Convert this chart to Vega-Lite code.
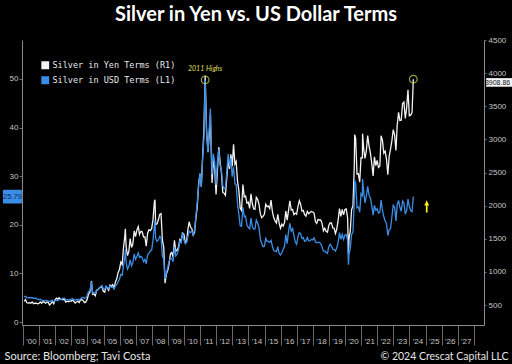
{
"$schema": "https://vega.github.io/schema/vega-lite/v6.json",
"width": 462, "height": 285,
"autosize": {"type": "none"},
"padding": {"left": 22, "top": 40, "right": 28, "bottom": 39},
"background": "black",
"title": {"text": "Silver in Yen vs. US Dollar Terms", "color": "white", "font": "Lato", "fontSize": 20, "fontWeight": "bold", "anchor": "middle", "offset": 11, "frame": "group", "dx": 3},
"config": {"view": {"stroke": null}, "axis": {"grid": false, "labelFont": "Liberation Sans", "labelFontSize": 8, "labelColor": "#c4c4c4", "domainColor": "#8a8a8a", "tickColor": "#6a6a6a", "titleFont": "Lato", "titleFontSize": 10.5, "titleFontWeight": "normal", "titleColor": "#e6e6e6"}},
"datasets": {"silver": [
{"d":"2000-01-28","usd":5.2,"jpy":556},{"d":"2000-02-28","usd":5.3,"jpy":583},{"d":"2000-03-28","usd":5.05,"jpy":535},{"d":"2000-04-28","usd":5.0,"jpy":530},{"d":"2000-05-28","usd":5.0,"jpy":538},{"d":"2000-06-28","usd":5.0,"jpy":530},{"d":"2000-07-28","usd":5.0,"jpy":548},{"d":"2000-08-28","usd":4.9,"jpy":522},{"d":"2000-09-28","usd":4.9,"jpy":529},{"d":"2000-10-28","usd":4.85,"jpy":528},{"d":"2000-11-28","usd":4.7,"jpy":519},{"d":"2000-12-28","usd":4.6,"jpy":526},
{"d":"2001-01-28","usd":4.7,"jpy":547},{"d":"2001-02-28","usd":4.5,"jpy":528},{"d":"2001-03-28","usd":4.4,"jpy":554},{"d":"2001-04-28","usd":4.4,"jpy":545},{"d":"2001-05-28","usd":4.45,"jpy":529},{"d":"2001-06-28","usd":4.4,"jpy":548},{"d":"2001-07-28","usd":4.3,"jpy":538},{"d":"2001-08-28","usd":4.2,"jpy":499},{"d":"2001-09-28","usd":4.4,"jpy":525},{"d":"2001-10-28","usd":4.5,"jpy":551},{"d":"2001-11-28","usd":4.2,"jpy":520},{"d":"2001-12-28","usd":4.4,"jpy":579},
{"d":"2002-01-28","usd":4.5,"jpy":606},{"d":"2002-02-28","usd":4.4,"jpy":587},{"d":"2002-03-28","usd":4.6,"jpy":611},{"d":"2002-04-28","usd":4.6,"jpy":591},{"d":"2002-05-28","usd":4.7,"jpy":583},{"d":"2002-06-28","usd":4.9,"jpy":585},{"d":"2002-07-28","usd":4.9,"jpy":588},{"d":"2002-08-28","usd":4.6,"jpy":546},{"d":"2002-09-28","usd":4.6,"jpy":559},{"d":"2002-10-28","usd":4.5,"jpy":551},{"d":"2002-11-28","usd":4.6,"jpy":563},{"d":"2002-12-28","usd":4.7,"jpy":558},
{"d":"2003-01-28","usd":4.8,"jpy":576},{"d":"2003-02-28","usd":4.7,"jpy":555},{"d":"2003-03-28","usd":4.5,"jpy":531},{"d":"2003-04-28","usd":4.6,"jpy":548},{"d":"2003-05-28","usd":4.7,"jpy":562},{"d":"2003-06-28","usd":4.5,"jpy":539},{"d":"2003-07-28","usd":4.8,"jpy":578},{"d":"2003-08-28","usd":5.0,"jpy":584},{"d":"2003-09-28","usd":5.1,"jpy":568},{"d":"2003-10-28","usd":4.9,"jpy":537},{"d":"2003-11-28","usd":5.0,"jpy":548},{"d":"2003-12-28","usd":5.5,"jpy":590},
{"d":"2004-01-28","usd":6.3,"jpy":667},{"d":"2004-02-28","usd":6.4,"jpy":698},{"d":"2004-03-28","usd":7.9,"jpy":823},{"d":"2004-04-02","usd":8.3,"jpy":863},{"d":"2004-04-28","usd":6.0,"jpy":662},{"d":"2004-05-28","usd":6.1,"jpy":668},{"d":"2004-06-28","usd":5.9,"jpy":642},{"d":"2004-07-28","usd":6.5,"jpy":724},{"d":"2004-08-28","usd":6.7,"jpy":734},{"d":"2004-09-28","usd":6.9,"jpy":759},{"d":"2004-10-28","usd":7.3,"jpy":772},{"d":"2004-11-28","usd":7.5,"jpy":773},{"d":"2004-12-28","usd":6.8,"jpy":709},
{"d":"2005-01-28","usd":6.7,"jpy":694},{"d":"2005-02-28","usd":7.4,"jpy":774},{"d":"2005-03-28","usd":7.1,"jpy":761},{"d":"2005-04-28","usd":6.9,"jpy":724},{"d":"2005-05-28","usd":7.4,"jpy":803},{"d":"2005-06-28","usd":7.1,"jpy":787},{"d":"2005-07-28","usd":7.2,"jpy":809},{"d":"2005-08-28","usd":6.8,"jpy":757},{"d":"2005-09-28","usd":7.5,"jpy":851},{"d":"2005-10-28","usd":7.7,"jpy":896},{"d":"2005-11-28","usd":8.3,"jpy":994},{"d":"2005-12-28","usd":8.8,"jpy":1038},
{"d":"2006-01-28","usd":9.8,"jpy":1149},{"d":"2006-02-28","usd":9.6,"jpy":1111},{"d":"2006-03-28","usd":11.5,"jpy":1355},{"d":"2006-04-28","usd":13.5,"jpy":1536},{"d":"2006-05-11","usd":14.9,"jpy":1650},{"d":"2006-05-28","usd":12.3,"jpy":1385},{"d":"2006-06-28","usd":10.9,"jpy":1248},{"d":"2006-07-28","usd":11.4,"jpy":1306},{"d":"2006-08-28","usd":12.8,"jpy":1503},{"d":"2006-09-28","usd":11.6,"jpy":1370},{"d":"2006-10-28","usd":12.2,"jpy":1426},{"d":"2006-11-28","usd":14.0,"jpy":1621},{"d":"2006-12-28","usd":12.9,"jpy":1535},
{"d":"2007-01-28","usd":13.5,"jpy":1635},{"d":"2007-02-28","usd":14.2,"jpy":1684},{"d":"2007-03-28","usd":13.3,"jpy":1567},{"d":"2007-04-28","usd":13.5,"jpy":1613},{"d":"2007-05-28","usd":13.2,"jpy":1606},{"d":"2007-06-28","usd":12.4,"jpy":1528},{"d":"2007-07-28","usd":12.9,"jpy":1530},{"d":"2007-08-28","usd":12.0,"jpy":1390},{"d":"2007-09-28","usd":13.8,"jpy":1584},{"d":"2007-10-28","usd":14.2,"jpy":1637},{"d":"2007-11-28","usd":14.6,"jpy":1624},{"d":"2007-12-28","usd":14.8,"jpy":1653},
{"d":"2008-01-28","usd":16.8,"jpy":1788},{"d":"2008-02-28","usd":19.8,"jpy":2057},{"d":"2008-03-14","usd":20.9,"jpy":2090},{"d":"2008-03-28","usd":17.2,"jpy":1715},{"d":"2008-04-28","usd":16.6,"jpy":1726},{"d":"2008-05-28","usd":16.9,"jpy":1783},{"d":"2008-06-28","usd":17.6,"jpy":1869},{"d":"2008-07-28","usd":17.4,"jpy":1881},{"d":"2008-08-28","usd":13.6,"jpy":1480},{"d":"2008-09-28","usd":12.9,"jpy":1367},{"d":"2008-10-27","usd":8.9,"jpy":830},{"d":"2008-11-28","usd":10.2,"jpy":973},{"d":"2008-12-28","usd":11.3,"jpy":1024},
{"d":"2009-01-28","usd":12.5,"jpy":1124},{"d":"2009-02-28","usd":13.1,"jpy":1279},{"d":"2009-03-28","usd":13.1,"jpy":1296},{"d":"2009-04-28","usd":12.4,"jpy":1221},{"d":"2009-05-28","usd":15.5,"jpy":1477},{"d":"2009-06-28","usd":13.6,"jpy":1311},{"d":"2009-07-28","usd":14.0,"jpy":1326},{"d":"2009-08-28","usd":14.8,"jpy":1376},{"d":"2009-09-28","usd":16.6,"jpy":1491},{"d":"2009-10-28","usd":16.3,"jpy":1469},{"d":"2009-11-28","usd":18.4,"jpy":1588},{"d":"2009-12-28","usd":16.9,"jpy":1572},
{"d":"2010-01-28","usd":16.1,"jpy":1454},{"d":"2010-02-28","usd":16.4,"jpy":1458},{"d":"2010-03-28","usd":17.5,"jpy":1636},{"d":"2010-04-28","usd":18.7,"jpy":1758},{"d":"2010-05-28","usd":18.4,"jpy":1678},{"d":"2010-06-28","usd":18.7,"jpy":1653},{"d":"2010-07-28","usd":18.0,"jpy":1557},{"d":"2010-08-28","usd":19.0,"jpy":1600},{"d":"2010-09-28","usd":21.8,"jpy":1820},{"d":"2010-10-28","usd":24.7,"jpy":1986},{"d":"2010-11-28","usd":27.9,"jpy":2335},{"d":"2010-12-28","usd":30.6,"jpy":2482},
{"d":"2011-01-28","usd":27.9,"jpy":2288},{"d":"2011-02-28","usd":33.8,"jpy":2765},{"d":"2011-03-28","usd":37.9,"jpy":3149},{"d":"2011-04-25","usd":49.8,"jpy":3960},{"d":"2011-05-28","usd":38.3,"jpy":3121},{"d":"2011-06-28","usd":34.9,"jpy":2809},{"d":"2011-07-28","usd":40.1,"jpy":3088},{"d":"2011-08-22","usd":43.9,"jpy":3370},{"d":"2011-08-28","usd":41.5,"jpy":3183},{"d":"2011-09-28","usd":30.4,"jpy":2344},{"d":"2011-10-28","usd":34.6,"jpy":2706},{"d":"2011-11-28","usd":32.8,"jpy":2545},{"d":"2011-12-28","usd":28.2,"jpy":2169},
{"d":"2012-01-28","usd":33.1,"jpy":2526},{"d":"2012-02-28","usd":35.5,"jpy":2883},{"d":"2012-03-28","usd":32.2,"jpy":2666},{"d":"2012-04-28","usd":31.2,"jpy":2496},{"d":"2012-05-28","usd":28.1,"jpy":2200},{"d":"2012-06-28","usd":27.4,"jpy":2187},{"d":"2012-07-28","usd":27.6,"jpy":2156},{"d":"2012-08-28","usd":30.9,"jpy":2423},{"d":"2012-09-28","usd":34.6,"jpy":2695},{"d":"2012-10-28","usd":32.0,"jpy":2554},{"d":"2012-11-28","usd":33.7,"jpy":2777},{"d":"2012-12-28","usd":29.9,"jpy":2592},
{"d":"2013-01-28","usd":31.9,"jpy":2925},{"d":"2013-02-28","usd":28.4,"jpy":2627},{"d":"2013-03-28","usd":28.3,"jpy":2666},{"d":"2013-04-28","usd":24.3,"jpy":2369},{"d":"2013-05-28","usd":22.2,"jpy":2231},{"d":"2013-06-28","usd":19.8,"jpy":1964},{"d":"2013-07-28","usd":19.7,"jpy":1929},{"d":"2013-08-28","usd":23.6,"jpy":2318},{"d":"2013-09-28","usd":21.7,"jpy":2133},{"d":"2013-10-28","usd":21.8,"jpy":2145},{"d":"2013-11-28","usd":19.9,"jpy":2038},{"d":"2013-12-28","usd":19.5,"jpy":2053},
{"d":"2014-01-28","usd":19.2,"jpy":1958},{"d":"2014-02-28","usd":21.4,"jpy":2179},{"d":"2014-03-28","usd":19.7,"jpy":2033},{"d":"2014-04-28","usd":19.1,"jpy":1952},{"d":"2014-05-28","usd":19.1,"jpy":1944},{"d":"2014-06-28","usd":21.0,"jpy":2127},{"d":"2014-07-28","usd":20.4,"jpy":2097},{"d":"2014-08-28","usd":19.4,"jpy":2020},{"d":"2014-09-28","usd":17.1,"jpy":1876},{"d":"2014-10-28","usd":16.2,"jpy":1819},{"d":"2014-11-28","usd":15.5,"jpy":1838},{"d":"2014-12-28","usd":15.6,"jpy":1869},
{"d":"2015-01-28","usd":17.2,"jpy":2021},{"d":"2015-02-28","usd":16.6,"jpy":1985},{"d":"2015-03-28","usd":16.6,"jpy":1994},{"d":"2015-04-28","usd":16.4,"jpy":1958},{"d":"2015-05-28","usd":16.8,"jpy":2085},{"d":"2015-06-28","usd":15.6,"jpy":1909},{"d":"2015-07-28","usd":14.7,"jpy":1821},{"d":"2015-08-28","usd":14.6,"jpy":1770},{"d":"2015-09-28","usd":14.5,"jpy":1739},{"d":"2015-10-28","usd":15.5,"jpy":1869},{"d":"2015-11-28","usd":14.1,"jpy":1736},{"d":"2015-12-28","usd":13.8,"jpy":1659},
{"d":"2016-01-28","usd":14.2,"jpy":1720},{"d":"2016-02-28","usd":15.0,"jpy":1691},{"d":"2016-03-28","usd":15.5,"jpy":1745},{"d":"2016-04-28","usd":18.0,"jpy":1917},{"d":"2016-05-28","usd":16.1,"jpy":1782},{"d":"2016-06-28","usd":18.7,"jpy":1930},{"d":"2016-07-28","usd":20.3,"jpy":2073},{"d":"2016-08-28","usd":18.7,"jpy":1934},{"d":"2016-09-28","usd":19.2,"jpy":1945},{"d":"2016-10-28","usd":17.8,"jpy":1865},{"d":"2016-11-28","usd":16.5,"jpy":1889},{"d":"2016-12-28","usd":16.0,"jpy":1872},
{"d":"2017-01-28","usd":17.6,"jpy":1985},{"d":"2017-02-28","usd":18.4,"jpy":2074},{"d":"2017-03-28","usd":18.2,"jpy":2027},{"d":"2017-04-28","usd":17.2,"jpy":1918},{"d":"2017-05-28","usd":17.4,"jpy":1928},{"d":"2017-06-28","usd":16.6,"jpy":1866},{"d":"2017-07-28","usd":16.7,"jpy":1842},{"d":"2017-08-28","usd":17.4,"jpy":1914},{"d":"2017-09-28","usd":16.7,"jpy":1879},{"d":"2017-10-28","usd":16.7,"jpy":1897},{"d":"2017-11-28","usd":17.0,"jpy":1913},{"d":"2017-12-28","usd":16.9,"jpy":1905},
{"d":"2018-01-28","usd":17.3,"jpy":1889},{"d":"2018-02-28","usd":16.5,"jpy":1761},{"d":"2018-03-28","usd":16.3,"jpy":1733},{"d":"2018-04-28","usd":16.4,"jpy":1793},{"d":"2018-05-28","usd":16.4,"jpy":1784},{"d":"2018-06-28","usd":16.1,"jpy":1784},{"d":"2018-07-28","usd":15.5,"jpy":1734},{"d":"2018-08-28","usd":14.6,"jpy":1621},{"d":"2018-09-28","usd":14.6,"jpy":1660},{"d":"2018-10-28","usd":14.3,"jpy":1614},{"d":"2018-11-28","usd":14.1,"jpy":1600},{"d":"2018-12-28","usd":15.5,"jpy":1700},
{"d":"2019-01-28","usd":16.0,"jpy":1742},{"d":"2019-02-28","usd":15.6,"jpy":1738},{"d":"2019-03-28","usd":15.0,"jpy":1664},{"d":"2019-04-28","usd":14.9,"jpy":1660},{"d":"2019-05-28","usd":14.6,"jpy":1581},{"d":"2019-06-28","usd":15.3,"jpy":1651},{"d":"2019-07-28","usd":16.4,"jpy":1783},{"d":"2019-08-28","usd":18.4,"jpy":1956},{"d":"2019-09-28","usd":17.0,"jpy":1838},{"d":"2019-10-28","usd":18.0,"jpy":1944},{"d":"2019-11-28","usd":17.0,"jpy":1862},{"d":"2019-12-28","usd":17.9,"jpy":1944},
{"d":"2020-01-28","usd":18.0,"jpy":1951},{"d":"2020-02-28","usd":16.8,"jpy":1813},{"d":"2020-03-18","usd":11.8,"jpy":1268},{"d":"2020-03-31","usd":14.0,"jpy":1505},{"d":"2020-04-28","usd":15.1,"jpy":1619},{"d":"2020-05-28","usd":18.0,"jpy":1940},{"d":"2020-06-28","usd":18.5,"jpy":1996},{"d":"2020-07-28","usd":24.5,"jpy":2592},{"d":"2020-08-06","usd":29.1,"jpy":3073},{"d":"2020-08-28","usd":28.5,"jpy":3018},{"d":"2020-09-28","usd":23.5,"jpy":2479},{"d":"2020-10-28","usd":23.7,"jpy":2481},{"d":"2020-11-28","usd":22.6,"jpy":2357},{"d":"2020-12-28","usd":26.4,"jpy":2724},
{"d":"2021-01-28","usd":26.0,"jpy":2722},{"d":"2021-02-01","usd":29.4,"jpy":3087},{"d":"2021-02-28","usd":26.7,"jpy":2846},{"d":"2021-03-28","usd":24.5,"jpy":2712},{"d":"2021-04-28","usd":25.9,"jpy":2831},{"d":"2021-05-28","usd":27.9,"jpy":3058},{"d":"2021-06-28","usd":26.1,"jpy":2900},{"d":"2021-07-28","usd":25.5,"jpy":2797},{"d":"2021-08-28","usd":24.0,"jpy":2640},{"d":"2021-09-28","usd":22.0,"jpy":2449},{"d":"2021-10-28","usd":24.0,"jpy":2736},{"d":"2021-11-28","usd":23.0,"jpy":2604},{"d":"2021-12-28","usd":23.3,"jpy":2682},
{"d":"2022-01-28","usd":22.4,"jpy":2578},{"d":"2022-02-28","usd":22.6,"jpy":2599},{"d":"2022-03-28","usd":25.1,"jpy":3055},{"d":"2022-04-28","usd":23.0,"jpy":2985},{"d":"2022-05-28","usd":21.7,"jpy":2793},{"d":"2022-06-28","usd":20.8,"jpy":2823},{"d":"2022-07-28","usd":20.3,"jpy":2706},{"d":"2022-08-28","usd":17.8,"jpy":2469},{"d":"2022-09-28","usd":19.0,"jpy":2749},{"d":"2022-10-28","usd":19.2,"jpy":2855},{"d":"2022-11-28","usd":21.6,"jpy":2981},{"d":"2022-12-28","usd":24.0,"jpy":3146},
{"d":"2023-01-28","usd":23.6,"jpy":3070},{"d":"2023-02-28","usd":20.8,"jpy":2833},{"d":"2023-03-28","usd":24.1,"jpy":3208},{"d":"2023-04-28","usd":25.0,"jpy":3408},{"d":"2023-05-28","usd":23.6,"jpy":3287},{"d":"2023-06-28","usd":22.8,"jpy":3290},{"d":"2023-07-28","usd":24.9,"jpy":3543},{"d":"2023-08-28","usd":24.5,"jpy":3565},{"d":"2023-09-28","usd":22.2,"jpy":3317},{"d":"2023-10-28","usd":22.9,"jpy":3474},{"d":"2023-11-28","usd":25.3,"jpy":3749},{"d":"2023-12-28","usd":23.8,"jpy":3356},
{"d":"2024-01-28","usd":22.9,"jpy":3366},{"d":"2024-02-28","usd":22.7,"jpy":3405},{"d":"2024-03-28","usd":25.79,"jpy":3908.86}
]},
"layer": [
{"data": {"name": "silver"}, "layer": [
 {"mark": {"type": "line", "strokeWidth": 1.3},
  "encoding": {
   "x": {"field": "d", "type": "temporal", "scale": {"domain": [{"year": 1999, "month": 12, "date": 10}, {"year": 2028, "month": 8, "date": 17}]},
    "axis": {"format": "'%y", "tickCount": {"interval": "year", "step": 1}, "labelExpr": "year(datum.value) < 2028 ? datum.label : ''", "labelOffset": 8, "tickSize": 20, "labelPadding": -8, "labelOverlap": false, "labelFlush": false, "labelBound": false,
     "title": "Source: Bloomberg; Tavi Costa", "titleAnchor": "start", "titleAlign": "left", "titleBaseline": "middle", "titleX": -18, "titleY": 31, "titleFontSize": 11}},
   "y": {"field": "jpy", "type": "quantitative", "scale": {"domain": [200, 4500], "nice": false, "zero": false},
    "axis": {"orient": "right", "format": "d", "values": [500,1000,1500,2000,2500,3000,3500,4000,4500], "labelOverlap": false, "labelFlush": false, "tickSize": 2, "labelPadding": 2, "title": "© 2024 Crescat Capital LLC", "titleAngle": 0, "titleAlign": "right", "titleBaseline": "middle", "titleX": 24, "titleY": 316}},
   "color": {"datum": "Silver in Yen Terms (R1)", "type": "nominal",
    "scale": {"domain": ["Silver in Yen Terms (R1)", "Silver in USD Terms (L1)"], "range": ["#f2f2f2", "#3b8ee6"]},
    "legend": {"orient": "none", "legendX": 19, "legendY": 21, "title": null, "symbolType": "square", "symbolSize": 40, "labelFont": "DejaVu Sans Mono", "labelFontSize": 8.5, "labelColor": "#e8e8e8", "rowPadding": 2, "padding": 0, "labelOffset": 3,
     "encode": {"symbols": {"update": {"fill": {"scale": "color", "field": "value"}, "stroke": {"value": "transparent"}}}}}}
  }},
 {"data": {"values": [{}]}, "mark": {"type": "point", "shape": "circle", "filled": false, "color": "#dede5a", "size": 60, "strokeWidth": 1.2},
  "encoding": {"x": {"datum": {"year": 2024, "month": 3, "date": 28}, "type": "temporal"},
   "y": {"datum": 3908.86, "type": "quantitative",
    "axis": {"orient": "right", "format": "d", "values": [500,1000,1500,2000,2500,3000,3500,4000,4500], "labelOverlap": false, "labelFlush": false, "tickSize": 2, "labelPadding": 2, "title": "© 2024 Crescat Capital LLC", "titleAngle": 0, "titleAlign": "right", "titleBaseline": "middle", "titleX": 24, "titleY": 316}}}},
 {"data": {"values": [{}]}, "mark": {"type": "rect", "color": "#f4f4f4"},
  "encoding": {"x": {"datum": {"year": 2028, "month": 10, "date": 5}, "type": "temporal"}, "x2": {"datum": {"year": 2030, "month": 5, "date": 15}},
   "y": {"datum": 3795, "type": "quantitative",
    "axis": {"orient": "right", "format": "d", "values": [500,1000,1500,2000,2500,3000,3500,4000,4500], "labelOverlap": false, "labelFlush": false, "tickSize": 2, "labelPadding": 2, "title": "© 2024 Crescat Capital LLC", "titleAngle": 0, "titleAlign": "right", "titleBaseline": "middle", "titleX": 24, "titleY": 316}},
   "y2": {"datum": 3925}}},
 {"data": {"values": [{}]}, "mark": {"type": "text", "text": "3908.86", "font": "Liberation Sans", "fontSize": 7, "color": "#111111"},
  "encoding": {"x": {"datum": {"year": 2029, "month": 6, "date": 20}, "type": "temporal"},
   "y": {"datum": 3858, "type": "quantitative",
    "axis": {"orient": "right", "format": "d", "values": [500,1000,1500,2000,2500,3000,3500,4000,4500], "labelOverlap": false, "labelFlush": false, "tickSize": 2, "labelPadding": 2, "title": "© 2024 Crescat Capital LLC", "titleAngle": 0, "titleAlign": "right", "titleBaseline": "middle", "titleX": 24, "titleY": 316}}}}
]},
{"data": {"name": "silver"}, "layer": [
 {"mark": {"type": "line", "strokeWidth": 1.3},
  "encoding": {
   "x": {"field": "d", "type": "temporal"},
   "y": {"field": "usd", "type": "quantitative", "scale": {"domain": [-0.6, 58], "nice": false, "zero": false},
    "axis": {"orient": "left", "values": [0,5,10,15,20,25,30,35,40,45,50,55], "labelExpr": "datum.value % 10 === 0 ? datum.label : ''", "labelOverlap": false, "tickSize": 3, "labelPadding": 1, "title": null}},
   "color": {"datum": "Silver in USD Terms (L1)", "type": "nominal"}
  }},
 {"data": {"values": [{}]}, "mark": {"type": "point", "shape": "circle", "filled": false, "color": "#dede5a", "size": 60, "strokeWidth": 1.2},
  "encoding": {"x": {"datum": {"year": 2011, "month": 4, "date": 25}, "type": "temporal"}, "y": {"datum": 49.8, "type": "quantitative"}}},
 {"data": {"values": [{}]}, "mark": {"type": "text", "text": "2011 Highs", "font": "Lato", "fontStyle": "italic", "fontSize": 7, "color": "#dede5a", "dy": -11},
  "encoding": {"x": {"datum": {"year": 2011, "month": 4, "date": 25}, "type": "temporal"}, "y": {"datum": 49.8, "type": "quantitative"}}},
 {"data": {"values": [{}]}, "mark": {"type": "point", "shape": "arrow", "filled": true, "color": "#f2ef1c", "size": 150, "opacity": 1},
  "encoding": {"x": {"datum": {"year": 2025, "month": 1, "date": 26}, "type": "temporal"}, "y": {"datum": 23.8, "type": "quantitative"}}},
 {"data": {"values": [{}]}, "mark": {"type": "rect", "color": "#3b8ee6", "cornerRadius": 1},
  "encoding": {"x": {"datum": {"year": 1998, "month": 10, "date": 3}, "type": "temporal"}, "x2": {"datum": {"year": 1999, "month": 12, "date": 8}}, "y": {"datum": 24.4, "type": "quantitative"}, "y2": {"datum": 27.2}}},
 {"data": {"values": [{}]}, "mark": {"type": "text", "text": "25.79", "font": "Liberation Sans", "fontSize": 7.5, "color": "#0c2a5a"},
  "encoding": {"x": {"datum": {"year": 1999, "month": 5, "date": 8}, "type": "temporal"}, "y": {"datum": 25.79, "type": "quantitative"}}}
]}
],
"resolve": {"scale": {"y": "independent"}}
}
